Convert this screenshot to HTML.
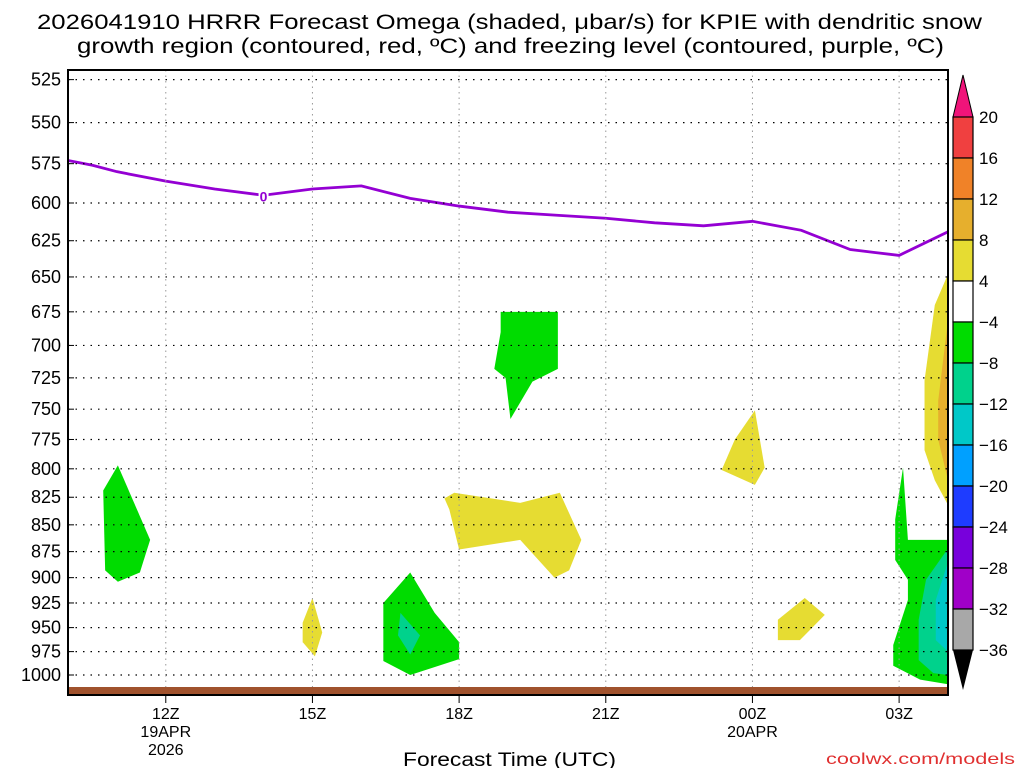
<!DOCTYPE html>
<html><head><meta charset="utf-8"><style>
body{margin:0;background:#fff;width:1024px;height:768px;overflow:hidden;font-family:"Liberation Sans",sans-serif}
</style></head><body>
<svg id="chart" width="1024" height="768" xmlns="http://www.w3.org/2000/svg" font-family="Liberation Sans, sans-serif">
<text x="37" y="29" font-size="21" textLength="945" lengthAdjust="spacingAndGlyphs">2026041910 HRRR Forecast Omega (shaded, μbar/s) for KPIE with dendritic snow</text>
<text x="77" y="53" font-size="21" textLength="867" lengthAdjust="spacingAndGlyphs">growth region (contoured, red, ºC) and freezing level (contoured, purple, ºC)</text>
<g id="plot"></g>
<text x="403" y="766" font-size="19" textLength="213" lengthAdjust="spacingAndGlyphs">Forecast Time (UTC)</text>
<text x="826" y="764" font-size="16" fill="#e03030" textLength="189" lengthAdjust="spacingAndGlyphs">coolwx.com/models</text>
</svg>
<script>
const pressureTicks=[525,550,575,600,625,650,675,700,725,750,775,800,825,850,875,900,925,950,975,1000];
const timeTicks=[12,15,18,21,24,27];
const timeLabels=["12Z","15Z","18Z","21Z","00Z","03Z"];
const dateLabels=[[12,"19APR","2026"],[24,"20APR",""]];
const flHours=[10,10.5,11,12,13,14,15,16,17,18,19,20,21,22,22.5,23,24,25,26,26.5,27,28];
const flPress=[573,576,580,586,591,595,591,589,597,602,606,608,610,613,614,615,612,618,631,633,635,619];
const cbLevels=[20,16,12,8,4,-4,-8,-12,-16,-20,-24,-28,-32,-36];
const cbColors=["#f04040","#f08228","#e6af2d","#e6dc32","#ffffff","#00dc00","#00d28c","#00c8c8","#00a0ff","#1e3cff","#7800dc","#a000c8","#a8a8a8"];
const regions=[
 {c:"#00dc00",pts:[[11.02,797],[11.68,864],[11.47,895],[11.02,904],[10.76,893],[10.72,819]]},
 {c:"#00dc00",pts:[[17.0,895],[17.5,935],[18.0,965],[18.0,983],[17.0,1000],[16.45,985],[16.45,925]]},
 {c:"#00d28c",pts:[[16.8,935],[17.2,958],[17.0,978],[16.75,958]]},
 {c:"#e6dc32",pts:[[15.0,920],[15.2,955],[15.05,980],[14.8,965],[14.8,945]]},
 {c:"#00dc00",pts:[[18.85,675],[20.02,675],[20.02,718],[19.5,728],[19.05,758],[18.95,725],[18.72,718],[18.85,690]]},
 {c:"#e6dc32",pts:[[17.9,821],[19.25,830],[20.06,821],[20.5,864],[20.25,893],[19.95,900],[19.25,864],[18.0,873],[17.8,836],[17.7,826]]},
 {c:"#e6dc32",pts:[[24.05,751],[24.25,799],[24.05,814],[23.37,801],[23.64,775]]},
 {c:"#e6dc32",pts:[[25.07,920],[25.48,937],[24.97,963],[24.52,963],[24.52,942]]},
 {c:"#e6dc32",pts:[[28,648],[27.73,670],[27.52,727],[27.52,784],[27.73,810],[28,832]]},
 {c:"#e6af2d",pts:[[28,681],[27.8,743],[27.8,775],[28,810]]},
 {c:"#00dc00",pts:[[27.08,799],[27.18,864],[28,864],[28,1010],[27.43,1005],[26.88,990],[26.88,968],[27.18,922],[27.18,902],[26.92,883],[26.92,845]]},
 {c:"#00d28c",pts:[[28,872],[27.55,902],[27.4,942],[27.4,984],[27.7,998],[28,1000]]},
 {c:"#00c8c8",pts:[[28,885],[27.75,922],[27.75,963],[28,975]]}
];
const X0=68,X1=948,Y0=70,Y1=695,H0=10,H1=28;
const xs=h=>X0+(h-H0)*(X1-X0)/(H1-H0);
const ys=p=>675-924*Math.log(1000/p);
const NS="http://www.w3.org/2000/svg";
const g=document.getElementById("plot");
function mk(t,a,parent){const e=document.createElementNS(NS,t);for(const k in a)e.setAttribute(k,a[k]);(parent||g).appendChild(e);return e;}
const clip=mk("clipPath",{id:"pc"});mk("rect",{x:X0,y:Y0,width:X1-X0,height:Y1-Y0},clip);
const rg=mk("g",{"clip-path":"url(#pc)"});


regions.forEach(r=>{
 const e=mk("polygon",{points:r.pts.map(q=>xs(q[0])+","+ys(q[1])).join(" "),fill:r.c},rg);
 
 
});
pressureTicks.forEach(p=>{
 const y=ys(p);
 const l=mk("line",{x1:X0,x2:X1,y1:y,y2:y,stroke:"#000","stroke-width":1.2,"stroke-dasharray":"1.5 6"});
 
 
 mk("line",{x1:X0,x2:X0+6,y1:y,y2:y,stroke:"#000"});
 const t=mk("text",{x:61,y:y+6,"font-size":18,"text-anchor":"end"});t.textContent=p;
 
 
});
timeTicks.forEach((h,i)=>{
 const x=xs(h);
 const l=mk("line",{x1:x,x2:x,y1:Y0,y2:Y1,stroke:"#999","stroke-width":1,"stroke-dasharray":"1.5 4"});
 
 
 mk("line",{x1:x,x2:x,y1:Y1,y2:Y1+8,stroke:"#000"});
 const t=mk("text",{x:x,y:719,"font-size":16,"text-anchor":"middle"});t.textContent=timeLabels[i];
 
 
});
dateLabels.forEach(d=>{
 const t=mk("text",{x:xs(d[0]),y:737,"font-size":16,"text-anchor":"middle"});t.textContent=d[1];
 
 
 if(d[2]){const t2=mk("text",{x:xs(d[0]),y:755,"font-size":16,"text-anchor":"middle"});t2.textContent=d[2];
 
 }
});
const terr=mk("rect",{x:X0,y:687,width:X1-X0,height:7,fill:"#a0522d"});


const fl=mk("polyline",{points:flHours.map((h,i)=>xs(h)+","+ys(flPress[i])).join(" "),fill:"none",stroke:"#9400d3","stroke-width":2.8},rg);


const fx=xs(14),fy=ys(595);
mk("rect",{x:fx-5,y:fy-8,width:10,height:15,fill:"#fff"},rg);
const fz=mk("text",{x:fx,y:fy+6,"font-size":14,"font-weight":"bold",fill:"#9400d3","text-anchor":"middle"});fz.textContent="0";


const fr=mk("rect",{x:X0,y:Y0,width:X1-X0,height:Y1-Y0,fill:"none",stroke:"#000","stroke-width":2});


const CX=953,CW=20,CT=117,CB=650,step=(CB-CT)/cbColors.length;
const cb=mk("g",{});


mk("polygon",{points:`${CX},${CT} ${CX+CW},${CT} ${CX+CW/2},${CT-42}`,fill:"#f0147a",stroke:"#000"},cb);
cbColors.forEach((c,i)=>{
 const r=mk("rect",{x:CX,y:CT+i*step,width:CW,height:step,fill:c,stroke:"#000","stroke-width":1.2},cb);
 
 
});
mk("polygon",{points:`${CX},${CB} ${CX+CW},${CB} ${CX+CW/2},${CB+40}`,fill:"#000"},cb);
cbLevels.forEach((v,i)=>{
 const t=mk("text",{x:CX+26,y:CT+i*step+6,"font-size":17},cb);t.textContent=v<0?"−"+(-v):v;
 
 
});
</script>
</body></html>
